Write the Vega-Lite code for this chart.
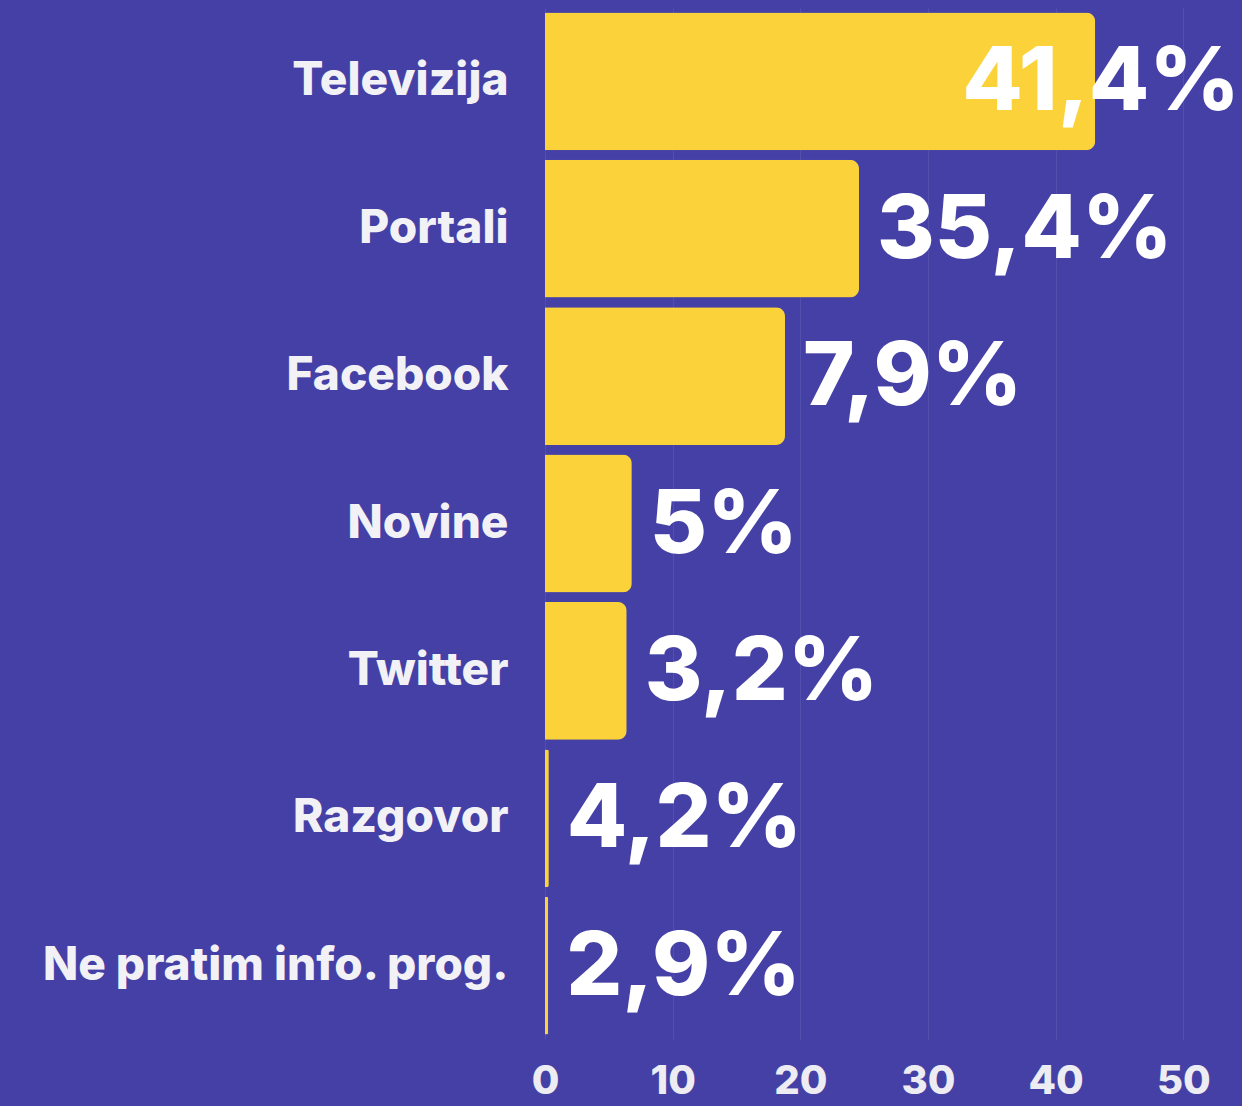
{
  "$schema": "https://vega.github.io/schema/vega-lite/v6.json",
  "autosize": "none",
  "width": 697,
  "height": 1031,
  "padding": {"left": 545, "top": 8, "right": 0, "bottom": 67},
  "background": "#4540a6",
  "config": {"view": {"stroke": null}, "font": "Inter"},
  "data": {
    "values": [
      {"kanal": "Televizija", "bar": 43.1, "label": "41,4%"},
      {"kanal": "Portali", "bar": 24.6, "label": "35,4%"},
      {"kanal": "Facebook", "bar": 18.8, "label": "7,9%"},
      {"kanal": "Novine", "bar": 6.8, "label": "5%"},
      {"kanal": "Twitter", "bar": 6.4, "label": "3,2%"},
      {"kanal": "Razgovor", "bar": 0.3, "label": "4,2%"},
      {"kanal": "Ne pratim info. prog.", "bar": 0.25, "label": "2,9%"}
    ]
  },
  "encoding": {
    "y": {
      "field": "kanal",
      "type": "nominal",
      "sort": null,
      "scale": {"paddingInner": 0.065, "paddingOuter": 0.03},
      "axis": {
        "title": null,
        "domain": false,
        "ticks": false,
        "labelPadding": 37,
        "labelFont": "Inter",
        "labelFontWeight": 800,
        "labelFontSize": 46,
        "labelColor": "#f2f2f6",
        "labelLimit": 600
      }
    },
    "x": {
      "field": "bar",
      "type": "quantitative",
      "scale": {"domain": [0, 54.6], "nice": false},
      "axis": {
        "title": null,
        "values": [0, 10, 20, 30, 40, 50],
        "domain": false,
        "ticks": false,
        "grid": true,
        "gridColor": "#ffffff",
        "gridOpacity": 0.08,
        "labelPadding": 22,
        "labelFont": "Inter",
        "labelFontWeight": 800,
        "labelFontSize": 40,
        "labelColor": "#ececf2",
        "labelFlush": false
      }
    }
  },
  "layer": [
    {
      "mark": {"type": "bar", "color": "#fcd23a", "cornerRadiusEnd": 9}
    },
    {
      "transform": [{"filter": "datum.bar < 40"}],
      "mark": {"type": "text", "align": "left", "baseline": "middle", "dx": 18, "dy": 3, "font": "Inter", "fontWeight": 800, "fontSize": 88, "color": "#ffffff"},
      "encoding": {"text": {"field": "label"}}
    },
    {
      "transform": [{"filter": "datum.bar >= 40"}],
      "mark": {"type": "text", "align": "left", "baseline": "middle", "dx": -133, "dy": 3, "font": "Inter", "fontWeight": 800, "fontSize": 88, "color": "#ffffff"},
      "encoding": {"text": {"field": "label"}}
    }
  ]
}
